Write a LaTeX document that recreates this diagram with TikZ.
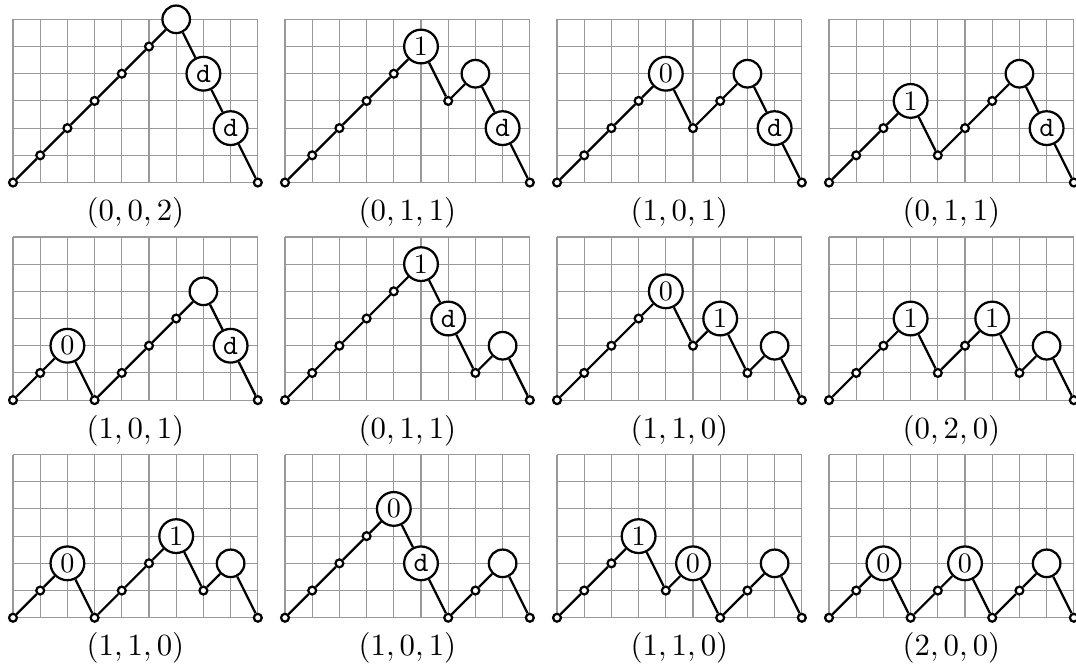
\documentclass[tikz,border=0pt]{standalone}

\begin{document}
\begin{tikzpicture}[
    x=0.34cm, y=0.34cm,
    gridline/.style={black!40, line width=0.4pt},
    walkline/.style={line width=0.8pt},
    vx/.style={circle, draw, fill=white, line width=0.8pt, inner sep=0pt},
    v-o/.style={vx, minimum size=2.8pt, node contents={}},
    v-e/.style={vx, minimum size=9.8pt, node contents={}},
    v-0/.style={vx, minimum size=12pt, node contents={0}},
    v-1/.style={vx, minimum size=12pt, node contents={1}},
    v-d/.style={vx, minimum size=12pt, font=\ttfamily, node contents={d}},
    tuple/.style={font=\fontsize{11}{13}\selectfont},
]
\useasboundingbox (-0.478,-17.70) rectangle (39.08,6.71);

% one lattice walk: name, origin, tuple, heights/kind of the ten vertices
\def\walk#1#2#3#4#5{%
  \begin{scope}[shift={(#2,#3)}]
    \draw[gridline] (0,0) grid[step=1] (9,6);
    \foreach \h/\t [count=\k from 0] in {#5}
      \node (#1\k) at (\k,\h) [v-\t];
    \foreach \k [evaluate=\k as \j using int(\k-1)] in {1,...,9}
      \draw[walkline] (#1\j) -- (#1\k);
    \node[tuple] (#1t) at (4.5,-1.12) {$#4$};
  \end{scope}}

% top row
\walk{a}{0}{0}{(0,0,2)}{0/o,1/o,2/o,3/o,4/o,5/o,6/e,4/d,2/d,0/o}
\walk{b}{10}{0}{(0,1,1)}{0/o,1/o,2/o,3/o,4/o,5/1,3/o,4/e,2/d,0/o}
\walk{c}{20}{0}{(1,0,1)}{0/o,1/o,2/o,3/o,4/0,2/o,3/o,4/e,2/d,0/o}
\walk{d}{30}{0}{(0,1,1)}{0/o,1/o,2/o,3/1,1/o,2/o,3/o,4/e,2/d,0/o}

% middle row
\walk{e}{0}{-8}{(1,0,1)}{0/o,1/o,2/0,0/o,1/o,2/o,3/o,4/e,2/d,0/o}
\walk{f}{10}{-8}{(0,1,1)}{0/o,1/o,2/o,3/o,4/o,5/1,3/d,1/o,2/e,0/o}
\walk{g}{20}{-8}{(1,1,0)}{0/o,1/o,2/o,3/o,4/0,2/o,3/1,1/o,2/e,0/o}
\walk{h}{30}{-8}{(0,2,0)}{0/o,1/o,2/o,3/1,1/o,2/o,3/1,1/o,2/e,0/o}

% bottom row
\walk{i}{0}{-16}{(1,1,0)}{0/o,1/o,2/0,0/o,1/o,2/o,3/1,1/o,2/e,0/o}
\walk{j}{10}{-16}{(1,0,1)}{0/o,1/o,2/o,3/o,4/0,2/d,0/o,1/o,2/e,0/o}
\walk{k}{20}{-16}{(1,1,0)}{0/o,1/o,2/o,3/1,1/o,2/0,0/o,1/o,2/e,0/o}
\walk{l}{30}{-16}{(2,0,0)}{0/o,1/o,2/0,0/o,1/o,2/0,0/o,1/o,2/e,0/o}

\end{tikzpicture}
\end{document}
